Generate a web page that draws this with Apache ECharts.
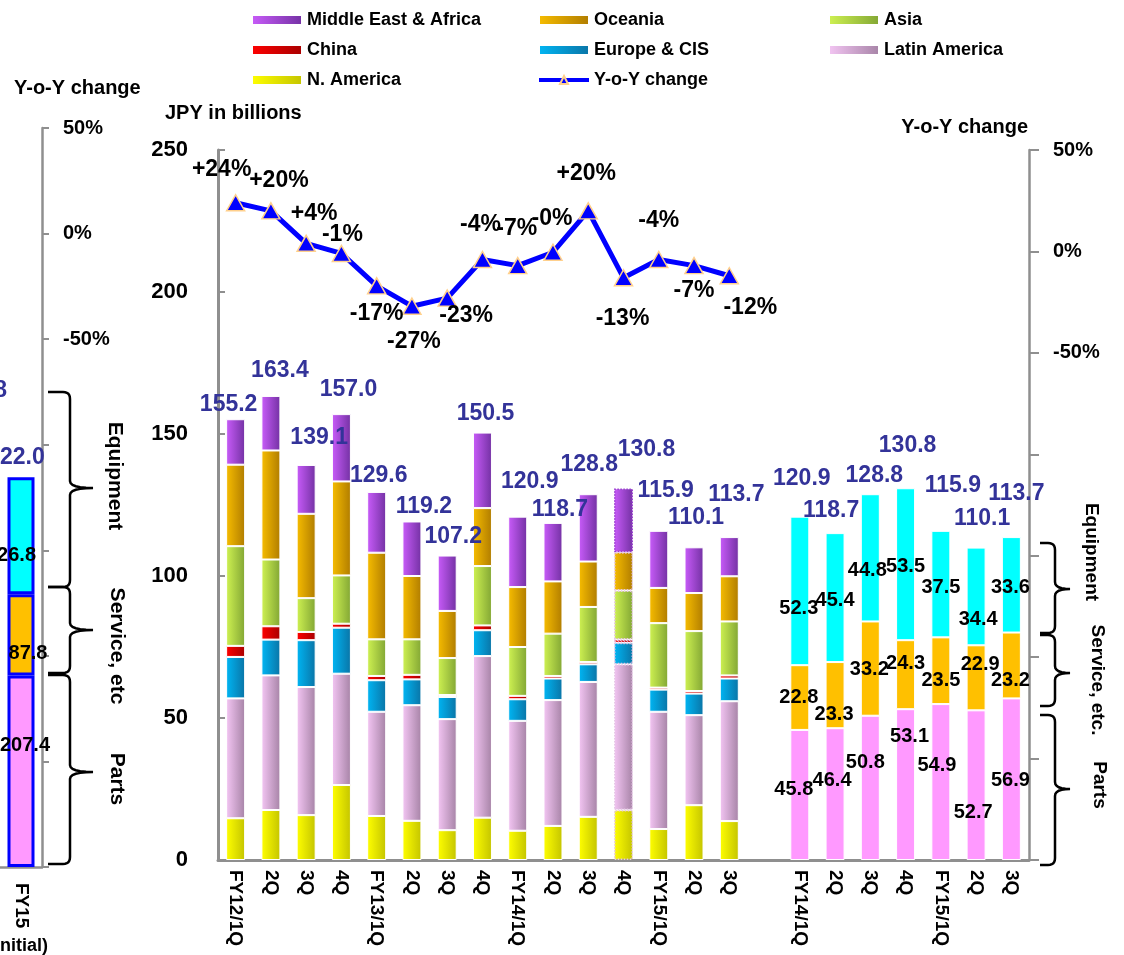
<!DOCTYPE html>
<html>
<head>
<meta charset="utf-8">
<title>Sales by region and by business</title>
<script src="https://cdn.jsdelivr.net/npm/echarts@6/dist/echarts.min.js"></script>
<style>
  html, body { margin: 0; padding: 0; background: #fff; }
  #chart { width: 1124px; height: 955px; }
</style>
</head>
<body>
<div id="chart"></div>
<script>
const quarters = ['FY12/1Q', '2Q', '3Q', '4Q', 'FY13/1Q', '2Q', '3Q', '4Q', 'FY14/1Q', '2Q', '3Q', '4Q', 'FY15/1Q', '2Q', '3Q',
  '', 'FY14/1Q', '2Q', '3Q', '4Q', 'FY15/1Q', '2Q', '3Q'];

// sales by region, JPY bn (FY12/1Q .. FY15/3Q)
const nAmerica = [14.7, 17.6, 15.8, 26.4, 15.5, 13.8, 10.5, 14.9, 10.3, 12.0, 15.2, 17.6, 10.9, 19.3, 13.7];
const latinAmerica = [42.2, 47.4, 45.1, 39.2, 36.7, 40.7, 39.1, 56.9, 38.7, 44.3, 47.5, 51.3, 41.3, 31.7, 42.2];
const europeCIS = [14.6, 12.6, 16.5, 16.2, 11.1, 9.1, 7.8, 9.1, 7.6, 7.6, 6.2, 7.6, 7.8, 7.6, 8.0];
const china = [3.9, 4.7, 2.9, 1.4, 1.5, 1.6, 0.7, 1.7, 1.2, 0.9, 0.8, 1.1, 0.7, 0.9, 1.1];
const asia = [35.1, 23.5, 11.9, 17.0, 12.9, 12.5, 13.0, 20.9, 17.2, 14.9, 19.4, 17.3, 22.7, 21.1, 19.0];
const oceania = [28.7, 38.4, 29.7, 33.1, 30.5, 22.3, 16.6, 20.4, 21.1, 18.4, 16.0, 13.5, 12.4, 13.4, 15.9];
const middleEastAfrica = [16.0, 19.2, 17.2, 23.7, 21.4, 19.2, 19.5, 26.6, 24.8, 20.6, 23.7, 22.4, 20.1, 16.1, 13.8];
const regionTotals = [155.2, 163.4, 139.1, 157.0, 129.6, 119.2, 107.2, 150.5, 120.9, 118.7, 128.8, 130.8, 115.9, 110.1, 113.7];
const yoyChange = [24, 20, 4, -1, -17, -27, -23, -4, -7, -0.4, 20, -13, -4, -7, -12];

// sales by business (FY14/1Q .. FY15/3Q)
const parts = [45.8, 46.4, 50.8, 53.1, 54.9, 52.7, 56.9];
const service = [22.8, 23.3, 33.2, 24.3, 23.5, 22.9, 23.2];
const equipment = [52.3, 45.4, 44.8, 53.5, 37.5, 34.4, 33.6];
const businessTotals = [120.9, 118.7, 128.8, 130.8, 115.9, 110.1, 113.7];

// FY15 initial plan (cut off at the left edge)
const planCategory = ['FY15'];
const planParts = [207.4];
const planService = [87.8];
const planEquipment = [126.8];
const planTotal = [422.0];

// label nudges, px [dx, dy]
const regionTotalShift = [[-7, -15], [9, -25], [13, -27], [7, -24], [2, -16], [12, -15], [6, -19], [3, -19],
  [12, -35], [7, -13], [1, -30], [23, -39], [7, -40], [2, -30], [7, -42]];
const businessTotalShift = [[2, -38], [-4, -22], [4, -19], [2, -43], [12, -45], [6, -29], [5, -43]];
const yoyShift = [[-14, -33], [8, -30], [8, -30], [1, -19], [0, 28], [2, 35], [19, 18], [-2, -35], [-1, -37],
  [-1, -34], [-2, -37], [-1, 41], [0, -39], [0, 25], [21, 32]];
const partsShift = [[-6, -5], [-3, -14], [-5, -25], [4, -48], [-4, -17], [-3, 27], [-1, 1]];
const serviceShift = [[-1, 0], [-1, 19], [-1, 1], [0, -11], [0, 10], [4, -13], [-1, 15]];
const equipmentShift = [[-1, 18], [0, 3], [-3, 13], [0, 2], [0, 3], [2, 23], [-1, 3]];

// the source uses a condensed bold face for legend and value labels; use it if installed
const probe = document.createElement('canvas').getContext('2d');
const hasFont = name => {
  probe.font = 'bold 40px monospace';
  const base = probe.measureText('Middle East & Africa 0123').width;
  probe.font = `bold 40px "${name}", monospace`;
  return probe.measureText('Middle East & Africa 0123').width !== base;
};
const FONT = '"Liberation Sans", Arial, Helvetica, sans-serif';
const NARROW_OK = hasFont('Liberation Sans Narrow');
const NARROW = NARROW_OK ? '"Liberation Sans Narrow", ' + FONT : FONT;
const LEGEND_SIZE = NARROW_OK ? 22 : 18;
const TOTAL_SIZE = NARROW_OK ? 28 : 23;
const VALUE_SIZE = NARROW_OK ? 23 : 20;
const TOTAL_HALF = TOTAL_SIZE / 2;

const GRAY = '#8f8f8f';
const NAVY = '#333399';
const DOTTED_BAR = 11;

const grad = (a, b) => new echarts.graphic.LinearGradient(0, 0, 1, 0, [
  { offset: 0, color: a }, { offset: 1, color: b }
]);

const regions = [
  { name: 'N. America', data: nAmerica, c: ['#FFFF00', '#C4C400'] },
  { name: 'Latin America', data: latinAmerica, c: ['#F4C6F4', '#A683A6'] },
  { name: 'Europe & CIS', data: europeCIS, c: ['#00B6F4', '#0A74A6'] },
  { name: 'China', data: china, c: ['#FF0000', '#A80000'] },
  { name: 'Asia', data: asia, c: ['#CFF252', '#82A634'] },
  { name: 'Oceania', data: oceania, c: ['#F7BD00', '#B07C00'] },
  { name: 'Middle East & Africa', data: middleEastAfrica, c: ['#C95CFA', '#7331A3'] }
];

const boldText = (size, color, family) => ({
  fontFamily: family || FONT, fontWeight: 'bold', fontSize: size, color: color || '#000'
});

const regionSeries = regions.map((r, i) => {
  const isTop = i === regions.length - 1;
  const data = r.data.map((v, j) => {
    const item = { value: v };
    if (j === DOTTED_BAR) item.itemStyle = { borderType: 'dotted', borderColor: isTop ? '#9a3fd0' : '#e6c8e6', borderWidth: 1.5 };
    if (isTop) item.label = { offset: [regionTotalShift[j][0], regionTotalShift[j][1] + TOTAL_HALF] };
    return item;
  }).concat(Array(8).fill('-'));
  return {
    name: r.name, type: 'bar', stack: 'sales', barWidth: 19,
    xAxisIndex: 0, yAxisIndex: 0,
    itemStyle: { color: grad(r.c[0], r.c[1]), borderColor: '#ffffff', borderWidth: 1 },
    label: isTop ? Object.assign({
      show: true, position: 'top', distance: 0,
      formatter: p => regionTotals[p.dataIndex].toFixed(1)
    }, boldText(TOTAL_SIZE, NAVY, NARROW)) : { show: false },
    data
  };
});

const businessParts = [
  { name: 'Parts', data: parts, color: '#FF99FF', shift: partsShift },
  { name: 'Service, etc.', data: service, color: '#FFC000', shift: serviceShift },
  { name: 'Equipment', data: equipment, color: '#00FFFF', shift: equipmentShift }
];

const businessSeries = businessParts.map(b => ({
  name: b.name, type: 'bar', stack: 'sales', barWidth: 19,
  xAxisIndex: 0, yAxisIndex: 0,
  itemStyle: { color: b.color, borderColor: '#ffffff', borderWidth: 1 },
  label: Object.assign({ show: true, position: 'inside', formatter: p => p.value.toFixed(1) }, boldText(VALUE_SIZE, '#000', NARROW)),
  data: Array(16).fill('-').concat(b.data.map((v, j) => ({ value: v, label: { offset: b.shift[j] } })))
}));

// totals above the business bars: zero-height segment on top of the stack that only carries a label
const businessTotalSeries = {
  name: 'business total', type: 'bar', stack: 'sales', barWidth: 19,
  xAxisIndex: 0, yAxisIndex: 0, silent: true,
  itemStyle: { color: 'rgba(0,0,0,0)' },
  label: Object.assign({
    show: true, position: 'top', distance: 0,
    formatter: p => businessTotals[p.dataIndex - 16].toFixed(1)
  }, boldText(TOTAL_SIZE, NAVY, NARROW)),
  data: Array(16).fill('-').concat(businessTotals.map((t, j) => ({
    value: 0, label: { offset: [businessTotalShift[j][0], businessTotalShift[j][1] + TOTAL_HALF] }
  })))
};

const yoySeries = {
  name: 'Y-o-Y change', type: 'line', xAxisIndex: 0, yAxisIndex: 1, z: 5,
  symbol: 'triangle', symbolSize: [18, 16],
  lineStyle: { color: '#0000FF', width: 5 },
  itemStyle: { color: '#0000FF', borderColor: '#FFD08C', borderWidth: 1.5 },
  label: Object.assign({
    show: true, position: 'inside',
    formatter: p => (p.value > 0 ? '+' : '-') + Math.round(Math.abs(p.value)) + '%'
  }, boldText(23)),
  data: yoyChange.map((v, j) => ({ value: v, label: { offset: yoyShift[j] } }))
};

const planItems = [
  { name: 'plan parts', data: planParts, color: '#FF99FF', shift: [4, -26] },
  { name: 'plan service', data: planService, color: '#FFC000', shift: [7, 19] },
  { name: 'plan equipment', data: planEquipment, color: '#00FFFF', shift: [-10, 20] }
];
const planSeries = planItems.map(b => ({
  name: b.name, type: 'bar', stack: 'plan', barWidth: 27,
  xAxisIndex: 1, yAxisIndex: 2,
  itemStyle: { color: b.color, borderColor: '#0000FF', borderWidth: 3 },
  label: Object.assign({ show: true, position: 'inside', offset: b.shift, formatter: p => p.value.toFixed(1) },
    boldText(VALUE_SIZE, '#000', NARROW)),
  data: b.data
}));
planSeries.push({
  name: 'plan total', type: 'bar', stack: 'plan', barWidth: 27,
  xAxisIndex: 1, yAxisIndex: 2, silent: true,
  itemStyle: { color: 'rgba(0,0,0,0)', borderWidth: 0 },
  label: Object.assign({
    show: true, position: 'top', distance: 0, offset: [-5, -20 + TOTAL_HALF],
    formatter: p => planTotal[p.dataIndex].toFixed(1)
  }, boldText(TOTAL_SIZE, NAVY, NARROW)),
  data: planTotal.map(() => 0)
});

const pctLabel = v => (v >= -50 ? v + '%' : '');

// curly brace as a sampled polyline
const quad = (p0, c, p1, n) => {
  const pts = [];
  for (let k = 1; k <= n; k++) {
    const t = k / n, u = 1 - t;
    pts.push([u * u * p0[0] + 2 * u * t * c[0] + t * t * p1[0], u * u * p0[1] + 2 * u * t * c[1] + t * t * p1[1]]);
  }
  return pts;
};
const brace = (x0, xv, xt, y0, yTip, y1) => {
  const r = 7;
  const pts = [[x0, y0], [xv - r, y0]]
    .concat(quad([xv - r, y0], [xv, y0], [xv, y0 + r], 6))
    .concat([[xv, yTip - r]])
    .concat(quad([xv, yTip - r], [xv, yTip], [xt, yTip], 6))
    .concat(quad([xt, yTip], [xv, yTip], [xv, yTip + r], 6))
    .concat([[xv, y1 - r]])
    .concat(quad([xv, y1 - r], [xv, y1], [xv - r, y1], 6))
    .concat([[x0, y1]]);
  return { type: 'polyline', silent: true, shape: { points: pts }, style: { stroke: '#000', lineWidth: 2.5, fill: null } };
};
const txt = (text, x, y, size, extra) => Object.assign({
  type: 'text', x, y, silent: true,
  style: Object.assign({ text, fontFamily: FONT, fontWeight: 'bold', fontSize: size, fill: '#000',
    align: 'left', verticalAlign: 'middle' }, extra && extra.style)
}, extra && extra.el);
const vtxt = (text, x, y, size) => txt(text, x, y, size, {
  style: { align: 'center' }, el: { rotation: -Math.PI / 2 }
});

const legendBase = {
  orient: 'vertical', top: 10, itemWidth: 50, itemHeight: 10, itemGap: 10, padding: 0,
  selectedMode: false,
  textStyle: { fontFamily: NARROW, fontWeight: 'bold', fontSize: LEGEND_SIZE, color: '#000', lineHeight: 20 }
};
const legendItems = names => names.map(n => n === 'Y-o-Y change'
  ? { name: n, lineStyle: { width: 4 } }
  : { name: n, icon: 'rect' });

const chart = echarts.init(document.getElementById('chart'), null, { renderer: 'canvas' });
chart.setOption({
  animation: false,
  backgroundColor: '#ffffff',
  legend: [
    Object.assign({ left: 251, data: legendItems(['Middle East & Africa', 'China', 'N. America']) }, legendBase),
    Object.assign({ left: 537, data: legendItems(['Oceania', 'Europe & CIS', 'Y-o-Y change']) }, legendBase),
    Object.assign({ left: 828, data: legendItems(['Asia', 'Latin America']) }, legendBase)
  ],
  grid: [
    { left: 218, right: 95, top: 150, bottom: 95 },
    { left: -7, right: 1082, top: 128, bottom: 88 }
  ],
  xAxis: [
    {
      type: 'category', gridIndex: 0, data: quarters,
      axisLine: { lineStyle: { color: GRAY, width: 3 } },
      axisTick: { inside: true, length: 7, interval: 0, lineStyle: { color: GRAY, width: 2 } },
      axisLabel: Object.assign({ rotate: -90, interval: 0, margin: 10 }, boldText(19))
    },
    {
      type: 'category', gridIndex: 1, data: planCategory,
      axisLine: { lineStyle: { color: GRAY, width: 2.5 } },
      axisTick: { show: false },
      axisLabel: Object.assign({ rotate: -90, margin: 16 }, boldText(19))
    }
  ],
  yAxis: [
    {
      type: 'value', gridIndex: 0, min: 0, max: 250, interval: 50,
      axisLine: { show: true, lineStyle: { color: GRAY, width: 3 } },
      axisTick: { show: true, inside: true, length: 7, lineStyle: { color: GRAY, width: 2 } },
      axisLabel: Object.assign({ margin: 30 }, boldText(22)),
      splitLine: { show: false }
    },
    {
      type: 'value', gridIndex: 0, position: 'right', min: -300, max: 50, interval: 50,
      axisLine: { show: true, lineStyle: { color: GRAY, width: 2.5 } },
      axisTick: { show: true, length: 10, lineStyle: { color: GRAY, width: 2 } },
      axisLabel: Object.assign({ margin: 24, formatter: pctLabel }, boldText(20)),
      splitLine: { show: false }
    },
    { type: 'value', gridIndex: 1, min: 0, max: 800, show: false },
    {
      type: 'value', gridIndex: 1, position: 'right', min: -300, max: 50, interval: 50,
      axisLine: { show: true, lineStyle: { color: GRAY, width: 2.5 } },
      axisTick: { show: true, length: 7, lineStyle: { color: GRAY, width: 2 } },
      axisLabel: Object.assign({ margin: 21, formatter: pctLabel }, boldText(20)),
      splitLine: { show: false }
    }
  ],
  graphic: [
    txt('Y-o-Y change', 14, 88, 20),
    txt('JPY in billions', 165, 113, 20),
    txt('Y-o-Y change', 1028, 127, 20, { style: { align: 'right' } }),
    txt('(Initial)', 48, 946, 18, { style: { align: 'right' } }),
    txt('8', 7, 391, 23, { style: { align: 'right', fill: NAVY } }),
    brace(48, 70, 93, 392, 488, 587),
    brace(48, 70, 93, 587, 630, 673),
    brace(48, 70, 93, 675, 772, 864),
    vtxt('Equipment', 115, 476, 21),
    vtxt('Service, etc', 117, 646, 21),
    vtxt('Parts', 117, 779, 21),
    brace(1040, 1055, 1070, 543, 589, 633),
    brace(1040, 1055, 1070, 635, 673, 706),
    brace(1040, 1055, 1070, 715, 789, 865),
    vtxt('Equipment', 1091, 552, 19),
    vtxt('Service, etc.', 1097, 680, 19),
    vtxt('Parts', 1099, 785, 19)
  ],
  series: regionSeries.concat(businessSeries, [businessTotalSeries, yoySeries], planSeries)
});
</script>
</body>
</html>
